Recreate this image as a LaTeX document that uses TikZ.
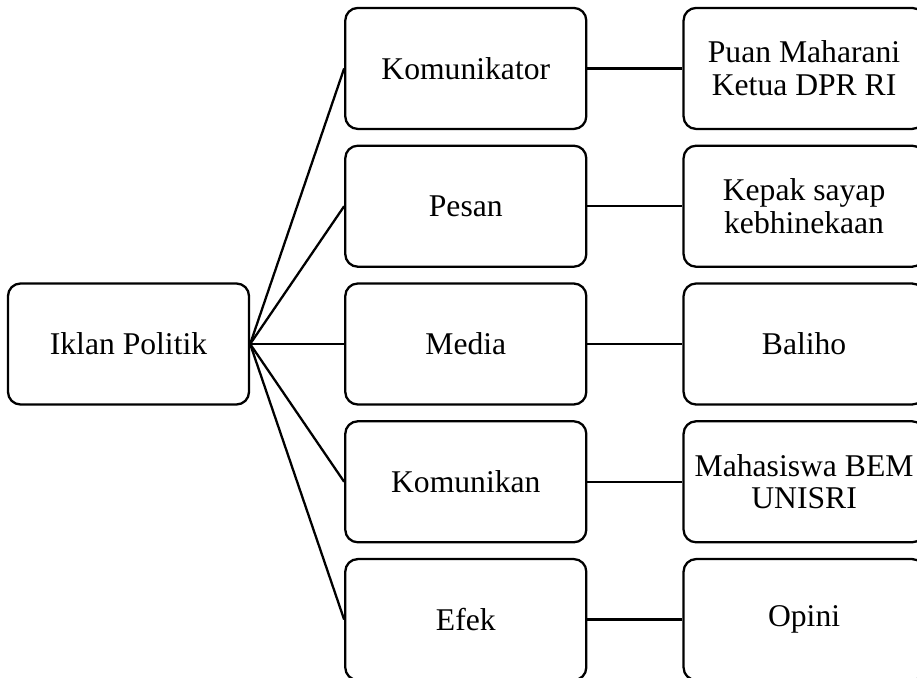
\documentclass[tikz,border=0pt]{standalone}
\usepackage{fontspec}
\setmainfont{Liberation Serif}
\usetikzlibrary{positioning}

\tikzset{
	kotak/.style={draw, line width=1.3pt, rounded corners=0.25cm, minimum width=4.82cm, minimum height=2.42cm, align=center, font=\fontsize{18}{18.5}\selectfont},
	garis/.style={line width=1.3pt}
}

\begin{document}
\begin{tikzpicture}
				\useasboundingbox (0,0) rectangle (18.34,-13.54);
				\node[kotak] (politik) at (2.57,-6.88) {Iklan Politik};
				\node[kotak, right=1.88cm of politik] (media) {Media};
				\node[kotak, above=0.29cm of media] (pesan) {Pesan};
				\node[kotak, above=0.29cm of pesan] (komunikator) {Komunikator};
				\node[kotak, below=0.29cm of media] (komunikan) {Komunikan};
				\node[kotak, below=0.29cm of komunikan] (efek) {Efek};
				\node[kotak, right=1.9cm of komunikator] (puan) {Puan Maharani\\Ketua DPR RI};
				\node[kotak, right=1.9cm of pesan] (kepak) {Kepak sayap\\kebhinekaan};
				\node[kotak, right=1.9cm of media] (baliho) {Baliho};
				\node[kotak, right=1.9cm of komunikan] (mahasiswa) {Mahasiswa BEM\\UNISRI};
				\node[kotak, right=1.9cm of efek] (opini) {Opini};
				% cabang dari iklan politik
				\foreach \b in {komunikator, pesan, media, komunikan, efek} {
					\draw[garis] (politik.east) -- (\b.west);
				}
				% isi tiap unsur
				\draw[garis] (komunikator) -- (puan);
				\draw[garis] (pesan) -- (kepak);
				\draw[garis] (media) -- (baliho);
				\draw[garis] (komunikan) -- (mahasiswa);
				\draw[garis] (efek) -- (opini);
			\end{tikzpicture}
\end{document}
